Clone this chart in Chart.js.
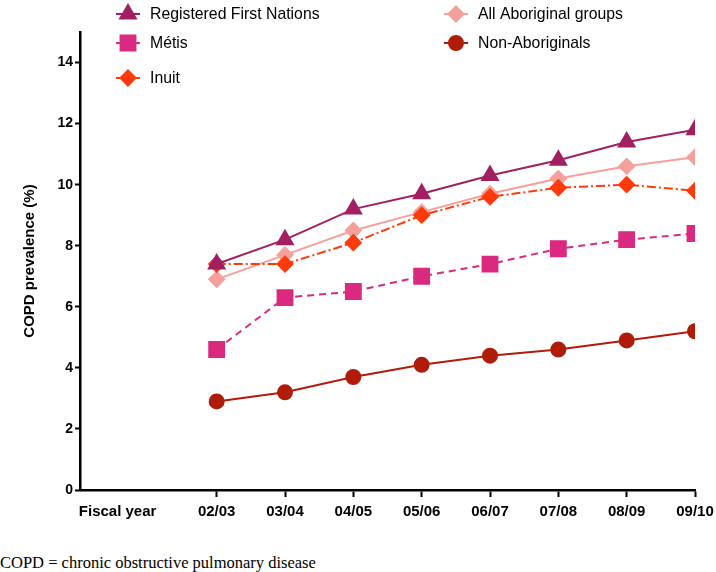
<!DOCTYPE html>
<html>
<head>
<meta charset="utf-8">
<script src="https://cdn.jsdelivr.net/npm/chart.js@4/dist/chart.umd.min.js"></script>
<style>
  html, body { margin: 0; padding: 0; background: #fff; }
  #wrap { position: relative; width: 716px; height: 535px; }
  #note { font-family: "Liberation Serif", serif; font-size: 16.5px; color: #000; margin: 18px 0 0 0; }
</style>
</head>
<body>
<div id="wrap"><canvas id="chart"></canvas></div>
<div id="note">COPD = chronic obstructive pulmonary disease</div>
<script>
const years = ['02/03', '03/04', '04/05', '05/06', '06/07', '07/08', '08/09', '09/10'];
const yTicks = [0, 2, 4, 6, 8, 10, 12, 14];

const firstNations = [7.4, 8.2, 9.2, 9.7, 10.3, 10.8, 11.4, 11.8];
const allAboriginal = [6.9, 7.7, 8.5, 9.1, 9.7, 10.2, 10.6, 10.9];
const metis = [4.6, 6.3, 6.5, 7.0, 7.4, 7.9, 8.2, 8.4];
const nonAboriginal = [2.9, 3.2, 3.7, 4.1, 4.4, 4.6, 4.9, 5.2];
const inuit = [7.4, 7.4, 8.1, 9.0, 9.6, 9.9, 10.0, 9.8];

const toPoints = arr => arr.map((v, i) => ({ x: i, y: v }));

function series(label, data, color, style, radius, dash, order) {
  return {
    label: label,
    data: toPoints(data),
    borderColor: color,
    backgroundColor: color,
    pointBackgroundColor: color,
    pointBorderColor: color,
    pointStyle: style,
    pointRadius: radius,
    pointHoverRadius: radius,
    borderWidth: 2,
    borderDash: dash,
    order: order
  };
}

const datasets = [
  series('Registered First Nations', firstNations, '#a21f62', 'triangle', 9, [], 1),
  series('All Aboriginal groups', allAboriginal, '#f5a09b', 'rectRot', 7.5, [], 3),
  series('Métis', metis, '#d92a80', 'rect', 10.5, [7, 5], 4),
  series('Non-Aboriginals', nonAboriginal, '#b01c0a', 'circle', 7, [], 5),
  series('Inuit', inuit, '#ff3a0a', 'rectRot', 7.5, [9, 3, 2, 3], 2)
];

// legend slots: [dataset index, x of marker, y]
const legendSlots = [[0, 128, 14], [1, 456, 14], [2, 128, 43], [3, 456, 43], [4, 128, 78]];

const legendPlugin = {
  id: 'gridLegend',
  afterDraw(chart) {
    const ctx = chart.ctx;
    ctx.save();
    legendSlots.forEach(([i, x, y]) => {
      const ds = chart.data.datasets[i];
      ctx.strokeStyle = ds.borderColor;
      ctx.lineWidth = 2;
      ctx.setLineDash([]);
      ctx.beginPath();
      ctx.moveTo(x - 12, y);
      ctx.lineTo(x + 12, y);
      ctx.stroke();
      ctx.fillStyle = ds.backgroundColor;
      Chart.helpers.drawPoint(ctx, { pointStyle: ds.pointStyle, rotation: 0, radius: ds.pointRadius, borderWidth: 1 }, x, y);
      ctx.fillStyle = '#000';
      ctx.font = '17px "Liberation Sans", Arial, sans-serif';
      ctx.textBaseline = 'middle';
      ctx.textAlign = 'left';
      ctx.save();
      ctx.translate(x + 22, y);
      ctx.scale(0.93, 1);
      ctx.fillText(ds.label, 0, 0);
      ctx.restore();
    });
    ctx.restore();
  }
};

new Chart(document.getElementById('chart'), {
  type: 'line',
  data: { datasets: datasets },
  plugins: [legendPlugin],
  options: {
    responsive: true,
    maintainAspectRatio: false,
    animation: false,
    layout: { padding: { left: 0, right: 21, top: 32, bottom: 0 } },
    plugins: { legend: { display: false }, tooltip: { enabled: false } },
    scales: {
      x: {
        type: 'linear',
        min: -2,
        max: 7,
        afterBuildTicks: s => { s.ticks = [{ value: -1.45 }].concat(years.map((y, i) => ({ value: i }))); },
        afterFit: s => { s.height = 45; s.paddingLeft = 0; s.paddingRight = 0; },
        border: { color: '#000', width: 2.5 },
        grid: {
          drawOnChartArea: false,
          tickLength: 7,
          tickWidth: 2,
          tickColor: c => (c.tick && c.tick.value < 0) ? 'rgba(0,0,0,0)' : '#000'
        },
        ticks: {
          color: '#000',
          autoSkip: false,
          maxRotation: 0,
          padding: 6,
          font: { family: '"Liberation Sans", Arial, sans-serif', size: 15, weight: 'bold' },
          callback: v => v < 0 ? 'Fiscal year' : years[v]
        }
      },
      y: {
        min: 0,
        max: 15,
        afterBuildTicks: s => { s.ticks = yTicks.map(v => ({ value: v })); },
        afterFit: s => { s.width = 80; },
        border: { color: '#000', width: 2.5 },
        grid: { drawOnChartArea: false, tickLength: 5, tickWidth: 2, tickColor: '#000' },
        ticks: {
          color: '#000',
          padding: 2,
          font: { family: '"Liberation Sans", Arial, sans-serif', size: 14, weight: 'bold' }
        },
        title: {
          display: true,
          text: 'COPD prevalence (%)',
          color: '#000',
          padding: { top: 21, bottom: 0 },
          font: { family: '"Liberation Sans", Arial, sans-serif', size: 15, weight: 'bold' }
        }
      }
    }
  }
});
</script>
</body>
</html>
